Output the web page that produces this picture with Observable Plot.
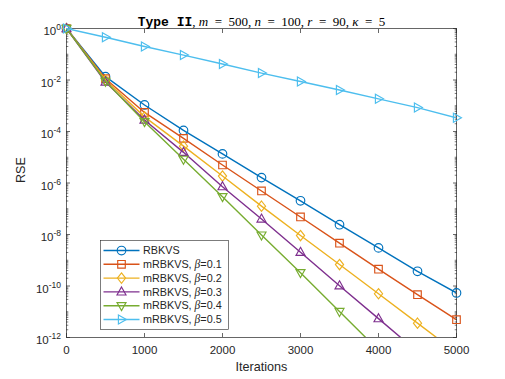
<!DOCTYPE html>
<html><head><meta charset="utf-8">
<script src="https://cdn.jsdelivr.net/npm/d3@7"></script>
<script src="https://cdn.jsdelivr.net/npm/@observablehq/plot@0.6"></script>
<style>body{margin:0;background:#fff;}</style>
</head><body><div id="chart"></div>
<script>
// ---- data ----
const iterations = [0, 500, 1000, 1500, 2000, 2500, 3000, 3500, 4000, 4500, 5000];
const seriesNames = ["RBKVS", "mRBKVS, β=0.1", "mRBKVS, β=0.2", "mRBKVS, β=0.3", "mRBKVS, β=0.4", "mRBKVS, β=0.5"];
const rseRBKVS  = [1, 1.35e-2, 1.07e-3, 1.10e-4, 1.35e-5, 1.62e-6, 2.04e-7, 2.40e-8, 3.02e-9, 3.72e-10, 5.37e-11];
const rseBeta01 = [1, 1.12e-2, 5.5e-4, 5.4e-5, 5.0e-6, 4.9e-7, 4.8e-8, 4.6e-9, 4.5e-10, 4.6e-11, 4.9e-12];
const rseBeta02 = [1, 1.0e-2, 3.7e-4, 2.7e-5, 1.86e-6, 1.26e-7, 9.1e-9, 6.8e-10, 5.0e-11, 3.6e-12, 2.6e-13];
const rseBeta03 = [1, 8.3e-3, 2.8e-4, 1.55e-5, 7.2e-7, 4.0e-8, 2.04e-9, 1.02e-10, 5.4e-12, 2.8e-13];
const rseBeta04 = [1, 8.9e-3, 2.4e-4, 8.3e-6, 2.95e-7, 9.5e-9, 3.3e-10, 1.02e-11, 3.2e-13];
const rseBeta05 = [1, 0.457, 0.200, 9.3e-2, 4.2e-2, 1.86e-2, 8.7e-3, 4.1e-3, 1.86e-3, 8.5e-4, 3.4e-4];
const xTicks = [0, 1000, 2000, 3000, 4000, 5000];
const yTicks = [1, 1e-2, 1e-4, 1e-6, 1e-8, 1e-10, 1e-12];
const titleParts = [["Type II", "tt"], [", ", "rm"], ["m", "it"], ["  =  500, ", "rm"], ["n", "it"], ["  =  100, ", "rm"], ["r", "it"], ["  =  90, ", "rm"], ["κ", "it"], ["  =  5", "rm"]];
const xLabel = "Iterations";
const yLabel = "RSE";

// ---- styles ----
const colors = ["#0072BD", "#D95319", "#EDB120", "#7E2F8E", "#77AC30", "#4DBEEE"];
function poly(pts) {
  return {draw(ctx, size) {
    const r = Math.sqrt(size / Math.PI);
    ctx.moveTo(pts[0][0] * r, pts[0][1] * r);
    for (let k = 1; k < pts.length; k++) ctx.lineTo(pts[k][0] * r, pts[k][1] * r);
    ctx.closePath();
  }};
}
const symCircle = {draw(ctx, size) { const r = Math.sqrt(size / Math.PI); ctx.moveTo(r, 0); ctx.arc(0, 0, r, 0, 2 * Math.PI); }};
const symbols = [
  symCircle,
  poly([[-0.88, -0.88], [0.88, -0.88], [0.88, 0.88], [-0.88, 0.88]]),
  poly([[0, -1.2], [0.95, 0], [0, 1.2], [-0.95, 0]]),
  poly([[0, -1.15], [1.05, 0.72], [-1.05, 0.72]]),
  poly([[0, 1.15], [1.05, -0.72], [-1.05, -0.72]]),
  poly([[1.15, 0], [-0.72, 1.05], [-0.72, -1.05]])
];
const seriesValues = [rseRBKVS, rseBeta01, rseBeta02, rseBeta03, rseBeta04, rseBeta05];
const yMinor = [];
for (let e = -12; e < 0; e++) for (let m = 1; m <= 9; m++) { const v = m * Math.pow(10, e); if (!(m === 1 && e % 2 === 0)) yMinor.push(v); }

const ink = "#262626";
const markR = 4.3;
const rows = i => seriesValues[i].map((v, j) => ({iter: iterations[j], rse: v}));

const marks = [
  Plot.frame({stroke: ink, strokeWidth: 0.7}),
  Plot.axisX({ticks: xTicks, anchor: "bottom", tickSize: -4, tickFormat: () => "", label: null, stroke: ink, strokeWidth: 0.7}),
  Plot.axisX({ticks: xTicks, anchor: "top", tickSize: -4, tickFormat: () => "", label: null, stroke: ink, strokeWidth: 0.7}),
  Plot.axisY({ticks: yTicks, anchor: "left", tickSize: -4, tickFormat: () => "", label: null, stroke: ink, strokeWidth: 0.7}),
  Plot.axisY({ticks: yTicks, anchor: "right", tickSize: -4, tickFormat: () => "", label: null, stroke: ink, strokeWidth: 0.7}),
  Plot.axisY({ticks: yMinor, anchor: "left", tickSize: -2.3, tickFormat: () => "", label: null, stroke: ink, strokeWidth: 0.6}),
  Plot.axisY({ticks: yMinor, anchor: "right", tickSize: -2.3, tickFormat: () => "", label: null, stroke: ink, strokeWidth: 0.6}),
  Plot.axisX({ticks: xTicks, anchor: "bottom", tickSize: 0, tickPadding: 8.5, tickFormat: d3.format("d"), label: null, fill: ink, fontSize: 11.5}),
  Plot.axisY({ticks: yTicks, anchor: "left", tickSize: 0, tickPadding: 5.5, dy: 3, tickFormat: d => "10^" + Math.round(Math.log10(d)), label: null, fill: ink, fontSize: 11.5}),
  Plot.text([yLabel], {text: d => d, frameAnchor: "left", dx: -46, rotate: -90, fontSize: 12.6, fill: ink}),
  Plot.text([xLabel], {text: d => d, frameAnchor: "bottom", dy: 33.5, fontSize: 12.6, fill: ink}),
  Plot.text([titleParts.map(p => p[0]).join("")], {text: d => d, frameAnchor: "top", dy: -12, fontSize: 13, fill: "#000"})
];
seriesValues.forEach((vals, i) => {
  const r = rows(i);
  marks.push(Plot.line(r, {x: "iter", y: "rse", stroke: colors[i], strokeWidth: 1.4, clip: true}));
  marks.push(Plot.dot(r.filter(d => d.rse >= 1e-12), {x: "iter", y: "rse", stroke: colors[i], fill: "none", symbol: symbols[i], r: markR, strokeWidth: 1.15}));
});

const svg = Plot.plot({
  width: 505, height: 379,
  marginLeft: 66, marginRight: 49, marginTop: 28, marginBottom: 42,
  x: {domain: [0, 5000]},
  y: {type: "log", domain: [1e-12, 1]},
  style: {fontFamily: "'Liberation Sans', Arial, sans-serif", fontSize: "11.5px", color: ink, background: "#fff"},
  marks
});
document.getElementById("chart").appendChild(svg);

// ---- superscript exponents on log tick labels ----
d3.select(svg).selectAll("text").each(function() {
  const t = this.textContent;
  const m = /^10\^(-?\d+)$/.exec(t);
  if (!m) return;
  const sel = d3.select(this);
  sel.text("");
  sel.append("tspan").text("10");
  sel.append("tspan").attr("dy", "-5").attr("font-size", "8.5px").text(m[1]);
});

// ---- title with mixed fonts ----
const titleStr = titleParts.map(p => p[0]).join("");
d3.select(svg).selectAll("text").filter(function() { return this.textContent === titleStr; }).each(function() {
  const sel = d3.select(this);
  sel.text("");
  for (const [s, kind] of titleParts) {
    const ts = sel.append("tspan").text(s);
    if (kind === "tt") ts.attr("font-family", "'Liberation Mono', monospace").attr("font-weight", "bold");
    else ts.attr("font-family", "'Liberation Serif', serif").attr("font-style", kind === "it" ? "italic" : "normal");
  }
});

// ---- legend ----
const lg = d3.select(svg).append("g").attr("font-family", "'Liberation Sans', Arial, sans-serif").attr("font-size", "10.8px").attr("text-anchor", "start");
lg.append("rect").attr("x", 100.5).attr("y", 240.5).attr("width", 128).attr("height", 89)
  .attr("fill", "#fff").attr("stroke", ink).attr("stroke-width", 0.6);
seriesNames.forEach((name, i) => {
  const y = 250.5 + i * 13.8;
  lg.append("line").attr("x1", 103.5).attr("x2", 139.5).attr("y1", y).attr("y2", y)
    .attr("stroke", colors[i]).attr("stroke-width", 1.4);
  lg.append("path").attr("transform", `translate(121.5,${y})`)
    .attr("d", d3.symbol().type(symbols[i]).size(Math.PI * markR * markR)())
    .attr("fill", "none").attr("stroke", colors[i]).attr("stroke-width", 1.15);
  const tx = lg.append("text").attr("x", 143).attr("y", y).attr("dy", "0.35em").attr("fill", ink).attr("text-anchor", "start");
  const parts = name.split("β");
  tx.append("tspan").text(parts[0]);
  if (parts.length > 1) {
    tx.append("tspan").attr("font-family", "'Liberation Serif', serif").attr("font-style", "italic").attr("font-size", "11.5px").text("β");
    tx.append("tspan").text(parts[1]);
  }
});
</script>
</body></html>
